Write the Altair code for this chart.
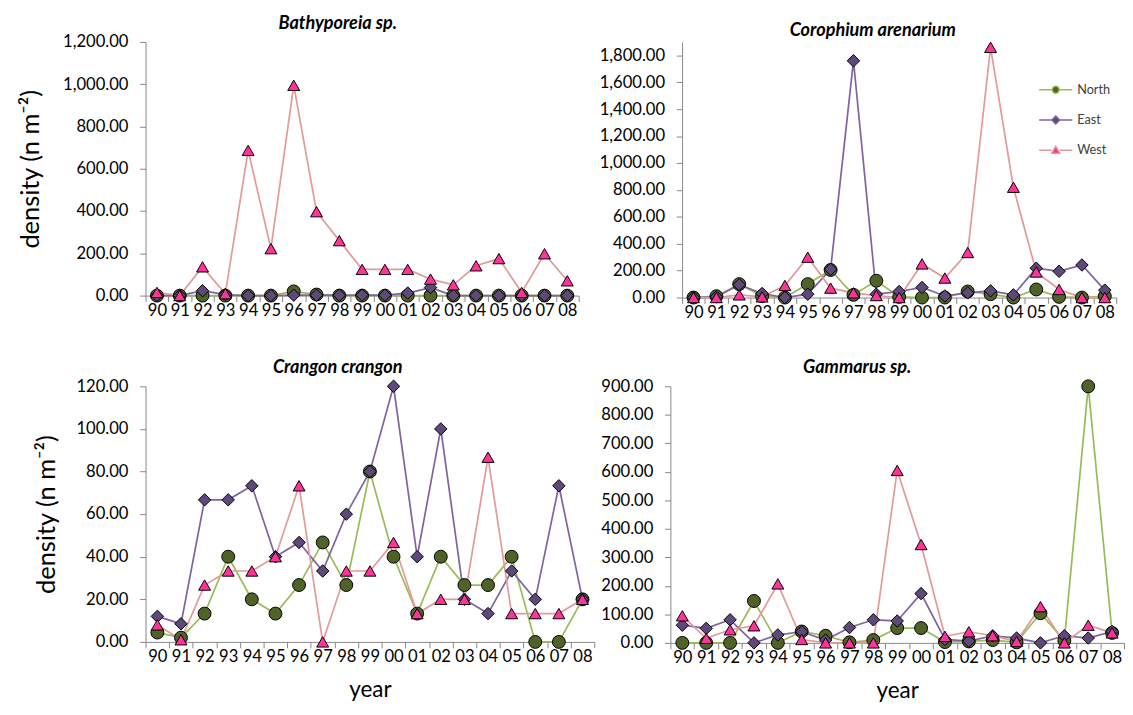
import altair as alt
import pandas as pd

years = ["90", "91", "92", "93", "94", "95", "96", "97", "98", "99",
         "00", "01", "02", "03", "04", "05", "06", "07", "08"]
series_names = ["North", "East", "West"]

# Bathyporeia sp.
bath_north = [0, 0, 0, 0, 0, 0, 20, 5, 0, 0, 0, 0, 0, 0, 0, 0, 0, 0, 0]
bath_east = [0, 0, 23, 5, 0, 0, 2, 2, 2, 2, 2, 12, 38, 0, 0, 0, 0, 0, 0]
bath_west = [15, 0, 136, 9, 687, 222, 995, 397, 260, 124, 124, 124, 78, 51, 141, 175, 15, 198, 70]

# Corophium arenarium
coro_north = [0, 10, 100, 10, 0, 100, 205, 20, 125, 5, 0, 0, 45, 25, 0, 60, 5, 0, 10]
coro_east = [0, 5, 95, 30, 0, 25, 210, 1760, 25, 45, 75, 12, 35, 50, 20, 218, 195, 242, 55]
coro_west = [0, 0, 20, 5, 90, 300, 70, 35, 15, 0, 250, 145, 335, 1860, 820, 190, 60, 0, 0]

# Crangon crangon
cran_north = [4.4, 2, 13.3, 40, 20, 13.3, 26.7, 46.7, 26.7, 80, 40, 13.3, 40, 26.7, 26.7, 40, 0, 0, 20]
cran_east = [12, 8.5, 66.7, 66.7, 73.3, 40, 46.7, 33.3, 60, 80, 120, 40, 100, 20, 13.3, 33.3, 20, 73.3, 20]
cran_west = [8, 1, 26.7, 33.3, 33.3, 40, 73.3, 0, 33.3, 33.3, 46.7, 13.3, 20, 20, 86.7, 13.3, 13.3, 13.3, 20]

# Gammarus sp.
gamm_north = [0, 0, 0, 147, 0, 40, 25, 2, 10, 52, 52, 3, 5, 10, 2, 104, 8, 900, 35]
gamm_east = [62, 51, 81, 0, 28, 39, 10, 54, 81, 77, 173, 12, 6, 25, 17, 0, 25, 17, 40]
gamm_west = [95, 16, 46, 60, 207, 12, 0, 0, 0, 605, 345, 23, 39, 25, 5, 127, 0, 62, 35]

line_colors = ["#9BBB59", "#8064A2", "#E39A9A"]
marker_fills = ["#4F6228", "#5F497A", "#FF3399"]
marker_shapes = ["circle", "diamond", "triangle-up"]
marker_sizes = [175, 150, 190]
legend_paths = [
    "M-1.7,0L-0.35,0M0.35,0L1.7,0M-0.35,0A0.35,0.35,0,1,1,0.35,0A0.35,0.35,0,1,1,-0.35,0Z",
    "M-1.7,0L-0.4,0M0.4,0L1.7,0M-0.4,0L0,-0.4L0.4,0L0,0.4Z",
    "M-1.7,0L-0.42,0M0.42,0L1.7,0M-0.42,0.32L0,-0.42L0.42,0.32Z",
]

FONT = "Lato"
AXIS_COLOR = "#868686"


def make_df(north, east, west):
    rows = []
    for name, vals in zip(series_names, [north, east, west]):
        for y, v in zip(years, vals):
            rows.append({"year": y, "value": v, "series": name, "Legend": name})
    return pd.DataFrame(rows)


def panel(title, title_dx, north, east, west, ymax, tick_max, step, width, height,
          ytitle, xtitle, ytitle_x, legend=False):
    df = make_df(north, east, west)
    base = alt.Chart(df)
    x_axis_kwargs = dict(labelAngle=0, tickBand="extent", tickSize=6, labelPadding=1,
                         domainColor=AXIS_COLOR, tickColor=AXIS_COLOR, labelColor="black",
                         labelFont=FONT, labelFontSize=17, grid=False)
    if xtitle:
        x_axis = alt.Axis(title="year", titleFont=FONT, titleFontSize=23,
                          titleFontWeight="normal", titlePadding=15, titleColor="black",
                          **x_axis_kwargs)
    else:
        x_axis = alt.Axis(title=None, **x_axis_kwargs)
    y_axis_kwargs = dict(values=list(range(0, tick_max + 1, step)), format=",.2f",
                         tickSize=6, labelPadding=12, domainColor=AXIS_COLOR,
                         tickColor=AXIS_COLOR, labelColor="black", labelFont=FONT,
                         labelFontSize=17, grid=False)
    if ytitle:
        y_axis = alt.Axis(title="density (n m⁻²)", titleFont=FONT, titleFontSize=26,
                          titleFontWeight="normal", titleX=ytitle_x, titleY=height / 2,
                          titleAlign="center", titleBaseline="bottom", titleAngle=270,
                          titleColor="black", **y_axis_kwargs)
    else:
        y_axis = alt.Axis(title=None, **y_axis_kwargs)

    x = alt.X("year:N", sort=years, bandPosition=0.5,
              scale=alt.Scale(type="band", domain=years, paddingInner=0, paddingOuter=0),
              axis=x_axis)
    y = alt.Y("value:Q", scale=alt.Scale(domain=[0, ymax], nice=False, zero=True), axis=y_axis)

    lines = base.mark_line(strokeWidth=1.75).encode(
        x=x, y=y,
        color=alt.Color("series:N", scale=alt.Scale(domain=series_names, range=line_colors),
                        legend=None),
        detail="series:N",
    )
    points = base.mark_point(filled=True, opacity=1, stroke="black", strokeWidth=1).encode(
        x=x, y=y,
        shape=alt.Shape("series:N", scale=alt.Scale(domain=series_names, range=marker_shapes),
                        legend=None),
        fill=alt.Fill("series:N", scale=alt.Scale(domain=series_names, range=marker_fills),
                      legend=None),
        size=alt.Size("series:N", scale=alt.Scale(domain=series_names, range=marker_sizes),
                      legend=None),
    )
    layers = [lines, points]
    if legend:
        leg_def = dict(title=None, orient="none", legendX=372, legendY=38, symbolSize=400,
                       symbolStrokeWidth=1.5, symbolOpacity=1, labelFont=FONT,
                       labelFontSize=13, labelColor="#404040", labelOffset=11,
                       rowPadding=13, padding=0)
        leg = base.transform_filter("false").mark_point(
            filled=True, opacity=1, strokeWidth=1.5).encode(
            shape=alt.Shape("Legend:N", scale=alt.Scale(domain=series_names, range=legend_paths),
                            legend=alt.Legend(**leg_def)),
            fill=alt.Fill("Legend:N", scale=alt.Scale(domain=series_names, range=marker_fills),
                          legend=alt.Legend(**leg_def)),
            stroke=alt.Stroke("Legend:N", scale=alt.Scale(domain=series_names, range=line_colors),
                              legend=alt.Legend(**leg_def)),
        )
        layers.append(leg)
    ch = alt.layer(*layers).resolve_scale(
        shape="independent", fill="independent", size="independent",
        color="independent", stroke="independent"
    ).properties(
        width=width, height=height,
        title=alt.TitleParams(text=title, font=FONT, fontSize=18.5, fontWeight="bold",
                              fontStyle="italic", frame="group", dx=title_dx, offset=1,
                              color="black"),
    )
    return ch


p1 = panel("Bathyporeia sp.", -25, bath_north, bath_east, bath_west, 1200, 1200, 200,
           444, 260, True, False, -105)
p2 = panel("Corophium arenarium", -27, coro_north, coro_east, coro_west, 1900, 1800, 200,
           445, 262, False, False, 0, legend=True)
p3 = panel("Crangon crangon", -33, cran_north, cran_east, cran_west, 120, 120, 20,
           460, 262, True, True, -88)
p4 = panel("Gammarus sp.", -41, gamm_north, gamm_east, gamm_west, 900, 900, 100,
           465, 263, False, True, 0)

res = dict(shape="independent", fill="independent", size="independent",
           color="independent", stroke="independent")
row1 = alt.hconcat(p1, p2, spacing=19).resolve_scale(**res)
row2 = alt.hconcat(p3, p4, spacing=5).resolve_scale(**res)

chart = alt.vconcat(row1, row2, spacing=39).resolve_scale(**res).properties(
    padding={"left": 10, "top": -3, "right": 0, "bottom": 0},
    background="white",
).configure_view(strokeWidth=0)

chart.save("out.html", embed_options={"renderer": "svg", "actions": False})
